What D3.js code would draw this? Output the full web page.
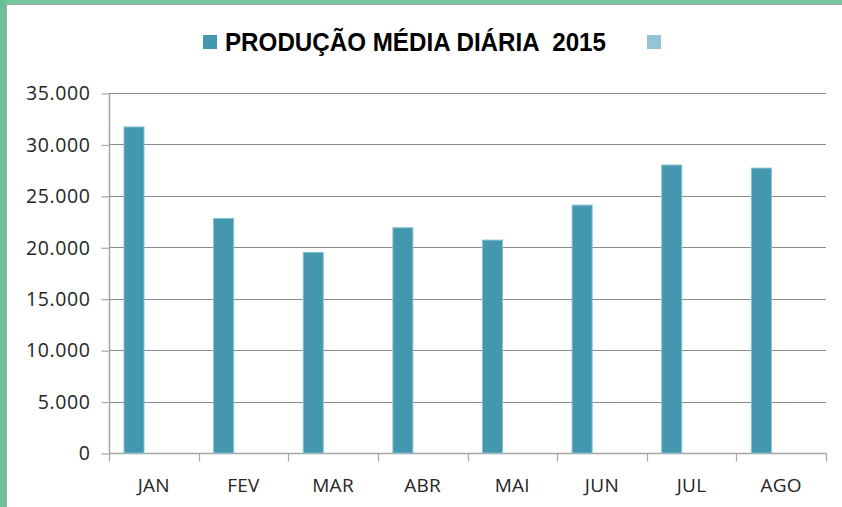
<!DOCTYPE html>
<html>
<head>
<meta charset="utf-8">
<script src="https://cdn.jsdelivr.net/npm/d3@7"></script>
<style>
  body { margin: 0; background: #fff; }
  svg { display: block; }
</style>
</head>
<body>
<svg id="chart" width="842" height="507"></svg>
<script>
// data
const months = ["JAN", "FEV", "MAR", "ABR", "MAI", "JUN", "JUL", "AGO"]
const producao2015 = [31700, 22800, 19500, 21900, 20700, 24100, 28000, 27700]
const serieVazia = [null, null, null, null, null, null, null, null]
const seriesNames = ["PRODUÇÃO MÉDIA DIÁRIA  2015", ""]
const yTicks = [0, 5000, 10000, 15000, 20000, 25000, 30000, 35000]

const svg = d3.select("#chart")
const W = 842, H = 507
const LEFT = 109, RIGHT = 826, TOP = 93, BOTTOM = 453
const COLORS = ["#4397af", "#93c5d6"]

// frame (green border + shadow)
svg.append("rect").attr("x", 0).attr("y", 0).attr("width", W).attr("height", 4).style("fill", "#74c79c")
svg.append("rect").attr("x", 0).attr("y", 0).attr("width", 6).attr("height", H).style("fill", "#6cc095")
svg.append("line").attr("x1", 6).attr("x2", W).attr("y1", 4.5).attr("y2", 4.5).style("stroke", "#a9a9a9")
svg.append("line").attr("x1", 6.5).attr("x2", 6.5).attr("y1", 4).attr("y2", H).style("stroke", "#a9a9a9")

// scales
let x = d3.scaleBand().domain(months).range([LEFT, RIGHT]).padding(0)
let x1 = d3.scaleBand().domain([0, 1]).range([0, x.bandwidth()])
    .paddingInner(0.495).paddingOuter(0.379)
let y = d3.scaleLinear().domain([0, 35000]).range([BOTTOM, TOP])

const fmt = v => d3.format(",")(v).replace(/,/g, ".")

// gridlines
svg.append("g")
    .selectAll("line")
    .data(yTicks.filter(d => d > 0))
    .enter().append("line")
    .attr("x1", LEFT).attr("x2", RIGHT)
    .attr("y1", d => Math.round(y(d)) + 0.5).attr("y2", d => Math.round(y(d)) + 0.5)
    .style("stroke", "#8c8c8c").style("stroke-width", 1.2)

// y axis
let yAxis = svg.append("g")
    .attr("transform", `translate(${LEFT + 0.5},0.5)`)
    .call(d3.axisLeft(y).tickValues(yTicks).tickFormat(fmt).tickSize(8).tickPadding(11))
yAxis.select(".domain").attr("d", `M0,${TOP}V${BOTTOM}`).style("stroke", "#a6a6a6").style("stroke-width", 1.5)
yAxis.selectAll(".tick line").style("stroke", "#a6a6a6").style("stroke-width", 1.2)
yAxis.selectAll(".tick text")
    .style("font-family", "'Open Sans', sans-serif").style("font-size", "19.5px")
    .style("letter-spacing", "0.6px").style("fill", "#262626")

// x axis
let xAxis = svg.append("g")
    .attr("transform", `translate(0,${BOTTOM + 0.5})`)
xAxis.append("line").attr("x1", LEFT).attr("x2", RIGHT + 1).attr("y1", 0).attr("y2", 0)
    .style("stroke", "#a6a6a6").style("stroke-width", 1.5)
xAxis.selectAll(".xt")
    .data(months.map(m => x(m)).concat([RIGHT]))
    .enter().append("line")
    .attr("x1", d => Math.round(d) + 0.5).attr("x2", d => Math.round(d) + 0.5)
    .attr("y1", 0).attr("y2", 8)
    .style("stroke", "#a6a6a6").style("stroke-width", 1.2)
xAxis.selectAll(".xl")
    .data(months)
    .enter().append("text")
    .text(d => d)
    .attr("x", d => x(d) + x.bandwidth() / 2)
    .attr("y", 38)
    .style("text-anchor", "middle")
    .style("font-family", "'Open Sans', sans-serif").style("font-size", "19px")
    .style("letter-spacing", "0.3px").style("fill", "#262626")

// bars
const allSeries = [producao2015, serieVazia]
allSeries.forEach((vals, si) => {
    svg.append("g")
        .selectAll("rect")
        .data(vals.map((v, i) => ({ m: months[i], v })).filter(d => d.v != null))
        .enter().append("rect")
        .attr("x", d => x(d.m) + x1(si))
        .attr("y", d => y(d.v))
        .attr("width", x1.bandwidth())
        .attr("height", d => BOTTOM - y(d.v))
        .style("fill", COLORS[si])
        .style("stroke", "#88c0d0").style("stroke-width", 1)
})

// legend
let leg = svg.append("g")
leg.append("rect").attr("x", 203).attr("y", 35).attr("width", 14).attr("height", 14).style("fill", COLORS[0])
leg.append("text").text(seriesNames[0])
    .attr("x", 225).attr("y", 51)
    .attr("textLength", 381).attr("lengthAdjust", "spacingAndGlyphs")
    .style("white-space", "pre")
    .style("font-family", "'Liberation Sans', Arial, sans-serif")
    .style("font-weight", "bold").style("font-size", "25px").style("fill", "#000")
leg.append("rect").attr("x", 647).attr("y", 35).attr("width", 14).attr("height", 14).style("fill", COLORS[1])
leg.append("text").text(seriesNames[1]).attr("x", 668).attr("y", 51)
</script>
</body>
</html>
